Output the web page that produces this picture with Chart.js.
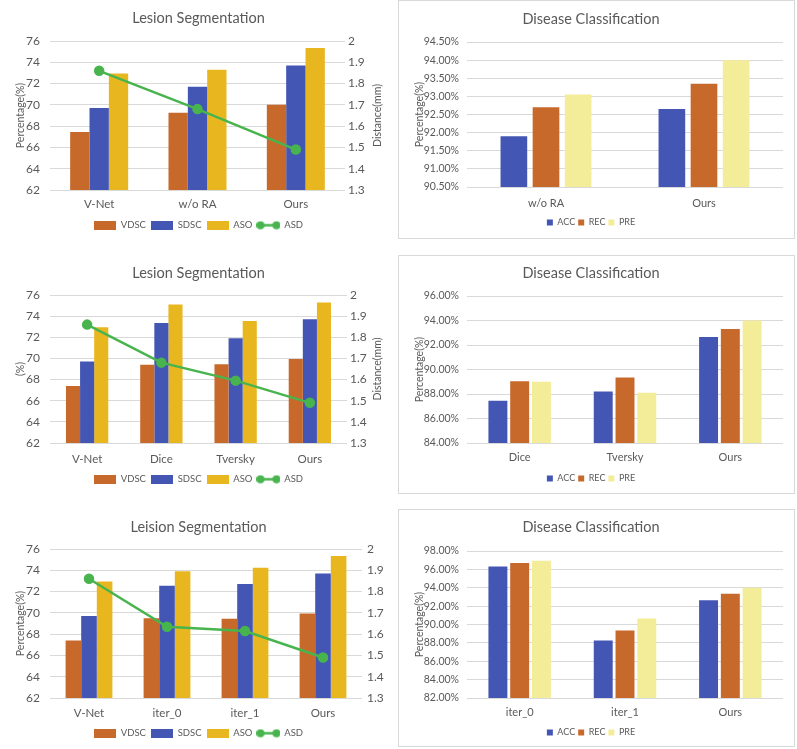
<!DOCTYPE html>
<html>
<head>
<meta charset="utf-8">
<script src="https://cdn.jsdelivr.net/npm/chart.js@4/dist/chart.umd.min.js"></script>
<style>
  body { margin: 0; background: #fff; }
  #page { position: relative; width: 797px; height: 749px; overflow: hidden; }
  .box { position: absolute; border: 1px solid #d9d9d9; box-sizing: border-box; }
  canvas { position: absolute; }
</style>
</head>
<body>
<div id="page">
  <div class="box" style="left:398px;top:0px;width:397px;height:239px"></div>
  <div class="box" style="left:398px;top:255px;width:397px;height:239px"></div>
  <div class="box" style="left:398px;top:509px;width:397px;height:238px"></div>
  <canvas id="seg1"></canvas>
  <canvas id="cls1"></canvas>
  <canvas id="seg2"></canvas>
  <canvas id="cls2"></canvas>
  <canvas id="seg3"></canvas>
  <canvas id="cls3"></canvas>
</div>
<script>
// ---- data ----
// row 1
const seg1Cats = ['V-Net', 'w/o RA', 'Ours']
const seg1VDSC = [67.45, 69.25, 70.0]
const seg1SDSC = [69.7, 71.7, 73.7]
const seg1ASO = [72.95, 73.3, 75.35]
const seg1ASD = [1.86, 1.68, 1.49]

const cls1Cats = ['w/o RA', 'Ours']
const cls1ACC = [91.9, 92.65]
const cls1REC = [92.7, 93.35]
const cls1PRE = [93.05, 94.0]

// row 2
const seg2Cats = ['V-Net', 'Dice', 'Tversky', 'Ours']
const seg2VDSC = [67.4, 69.4, 69.45, 69.95]
const seg2SDSC = [69.7, 73.35, 71.9, 73.7]
const seg2ASO = [72.95, 75.1, 73.55, 75.3]
const seg2ASD = [1.86, 1.68, 1.595, 1.49]

const cls2Cats = ['Dice', 'Tversky', 'Ours']
const cls2ACC = [87.45, 88.2, 92.65]
const cls2REC = [89.05, 89.35, 93.3]
const cls2PRE = [89.0, 88.1, 94.0]

// row 3
const seg3Cats = ['V-Net', 'iter_0', 'iter_1', 'Ours']
const seg3VDSC = [67.4, 69.5, 69.45, 69.95]
const seg3SDSC = [69.7, 72.55, 72.7, 73.7]
const seg3ASO = [72.95, 73.9, 74.25, 75.35]
const seg3ASD = [1.86, 1.635, 1.615, 1.49]

const cls3Cats = ['iter_0', 'iter_1', 'Ours']
const cls3ACC = [96.3, 88.25, 92.65]
const cls3REC = [96.7, 89.35, 93.35]
const cls3PRE = [96.95, 90.65, 94.0]

// axis ranges
const segLeftAxis = { min: 62, max: 76, step: 2 }
const segRightAxis = { min: 1.3, max: 2, step: 0.1 }
const cls1Axis = { min: 90.5, max: 94.5, step: 0.5 }
const cls2Axis = { min: 84, max: 96, step: 2 }
const cls3Axis = { min: 82, max: 98, step: 2 }

// ---- styles ----
const GRAY = '#595959'
const GRID = '#d9d9d9'
const ORANGE = '#C8692C'
const BLUE = '#4456B4'
const GOLD = '#E8B720'
const PALE = '#F3EC98'
const GREEN = '#48B44E'
const FONT = 'Lato, "Open Sans", sans-serif'

function place(id, g, ch) {
  const cv = document.getElementById(id)
  cv.width = g.cw
  cv.height = ch
  cv.style.left = g.cx + 'px'
  cv.style.top = g.cy + 'px'
  return cv
}

function legendIcon(color, isLine) {
  const c = document.createElement('canvas')
  c.width = isLine ? 24 : 22
  c.height = 9
  const x = c.getContext('2d')
  x.fillStyle = color
  if (isLine) {
    x.strokeStyle = color
    x.lineWidth = 2.5
    x.beginPath(); x.moveTo(4, 4.5); x.lineTo(20, 4.5); x.stroke()
    ;[4, 20].forEach(px => { x.beginPath(); x.arc(px, 4.5, 4, 0, Math.PI * 2); x.fill() })
  } else {
    x.fillRect(0, 0, 22, 9)
  }
  return c
}

// right hand axis title, rotated like the original (reads bottom to top)
const rightTitle = {
  id: 'rightTitle',
  afterDraw(chart, args, opts) {
    if (!opts.text) return
    const { ctx, chartArea } = chart
    ctx.save()
    ctx.fillStyle = GRAY
    ctx.font = '10.5px ' + FONT
    ctx.textAlign = 'center'
    ctx.textBaseline = 'middle'
    ctx.translate(opts.x, (chartArea.top + chartArea.bottom) / 2)
    ctx.rotate(-Math.PI / 2)
    ctx.fillText(opts.text, 0, 0)
    ctx.restore()
  }
}

function segChart(id, g, cats, vdsc, sdsc, aso, asd, title, leftTitle, rTitle, catPct) {
  const pad = 5, itemH = 9.5
  const ch = Math.round(g.legendY + itemH / 2 + 10 - g.cy)
  const legendTop = g.cy + ch - (itemH + pad + 10)
  const cv = place(id, g, ch)
  const icons = [legendIcon(ORANGE), legendIcon(BLUE), legendIcon(GOLD), legendIcon(GREEN, true)]
  new Chart(cv, {
    type: 'bar',
    data: {
      labels: cats,
      datasets: [
        { label: 'VDSC', data: vdsc, backgroundColor: ORANGE, yAxisID: 'y', order: 1 },
        { label: 'SDSC', data: sdsc, backgroundColor: BLUE, yAxisID: 'y', order: 1 },
        { label: 'ASO', data: aso, backgroundColor: GOLD, yAxisID: 'y', order: 1 },
        {
          type: 'line', label: 'ASD', data: asd, yAxisID: 'y1', order: 0,
          borderColor: GREEN, backgroundColor: GREEN, borderWidth: 2.5,
          pointRadius: 4, pointBackgroundColor: GREEN, pointBorderColor: GREEN
        }
      ]
    },
    plugins: [rightTitle],
    options: {
      responsive: false,
      animation: false,
      datasets: { bar: { barPercentage: 1, categoryPercentage: catPct } },
      layout: { padding: 0 },
      plugins: {
        title: {
          display: true, text: title, color: GRAY,
          font: { family: FONT, size: 14.5, weight: 'normal', lineHeight: 1.2 },
          padding: { top: g.titleY - g.cy - 8, bottom: g.pt - g.titleY - 9.4 }
        },
        legend: {
          position: 'bottom',
          labels: {
            usePointStyle: true, pointStyleWidth: 22, boxHeight: 9, padding: pad,
            color: GRAY, font: { family: FONT, size: 9.5 },
            sort: (a, b) => a.datasetIndex - b.datasetIndex,
            generateLabels: c => Chart.defaults.plugins.legend.labels.generateLabels(c)
              .map(it => Object.assign(it, { pointStyle: icons[it.datasetIndex] }))
          }
        },
        tooltip: { enabled: false },
        rightTitle: { text: rTitle, x: g.rtX - g.cx }
      },
      scales: {
        x: {
          grid: { display: false, drawTicks: false }, border: { display: false },
          ticks: { color: GRAY, font: { family: FONT, size: 11.5 }, padding: g.catY - g.pb - 5 },
          afterFit: s => { s.height = legendTop - g.pb }
        },
        y: {
          position: 'left', min: segLeftAxis.min, max: segLeftAxis.max,
          ticks: { stepSize: segLeftAxis.step, color: GRAY, font: { family: FONT, size: 12 }, padding: 10 },
          grid: { color: GRID, drawTicks: false }, border: { display: false },
          title: { display: true, text: leftTitle, color: GRAY, font: { family: FONT, size: 10.5 }, padding: { top: 14, bottom: 0 } },
          afterFit: s => { s.width = g.pl - g.cx }
        },
        y1: {
          position: 'right', min: segRightAxis.min, max: segRightAxis.max,
          ticks: { stepSize: segRightAxis.step, color: GRAY, font: { family: FONT, size: 12 }, padding: g.rPad, callback: v => +v.toFixed(1) },
          grid: { display: false, drawTicks: false }, border: { display: false },
          afterFit: s => { s.width = g.cx + g.cw - g.pr }
        }
      }
    }
  })
}

function clsChart(id, g, cats, acc, rec, pre, axis, catPct, barPct) {
  const pad = 3, itemH = 9
  const ch = Math.round(g.legendY + itemH / 2 + 10 - g.cy)
  const legendTop = g.cy + ch - (itemH + pad + 10)
  const cv = place(id, g, ch)
  new Chart(cv, {
    type: 'bar',
    data: {
      labels: cats,
      datasets: [
        { label: 'ACC', data: acc, backgroundColor: BLUE },
        { label: 'REC', data: rec, backgroundColor: ORANGE },
        { label: 'PRE', data: pre, backgroundColor: PALE }
      ]
    },
    options: {
      responsive: false,
      animation: false,
      datasets: { bar: { barPercentage: barPct, categoryPercentage: catPct } },
      layout: { padding: { left: 0, top: 0, bottom: 0, right: g.cx + g.cw - g.pr } },
      plugins: {
        title: {
          display: true, text: 'Disease Classification', color: GRAY,
          font: { family: FONT, size: 14.5, weight: 'normal', lineHeight: 1.2 },
          padding: { top: g.titleY - g.cy - 8, bottom: g.pt - g.titleY - 9.4 }
        },
        legend: {
          position: 'bottom',
          labels: {
            usePointStyle: true, pointStyle: 'rect', pointStyleWidth: 6, boxHeight: 6, padding: pad,
            color: GRAY, font: { family: FONT, size: 9 }
          }
        },
        tooltip: { enabled: false }
      },
      scales: {
        x: {
          grid: { display: false, drawTicks: false }, border: { display: false },
          ticks: { color: GRAY, font: { family: FONT, size: 11 }, padding: g.catY - g.pb - 5 },
          afterFit: s => { s.height = legendTop - g.pb }
        },
        y: {
          min: axis.min, max: axis.max,
          ticks: { stepSize: axis.step, color: GRAY, font: { family: FONT, size: 10.5 }, padding: 8, callback: v => v.toFixed(2) + '%' },
          grid: { color: GRID, drawTicks: false }, border: { display: false },
          title: { display: true, text: 'Percentage(%)', color: GRAY, font: { family: FONT, size: 10.5 }, padding: { top: 14, bottom: 0 } },
          afterFit: s => { s.width = g.pl - g.cx }
        }
      }
    }
  })
}

// panel geometry in page pixels
segChart('seg1', { cx: 0, cy: 0, cw: 397, pl: 50, pr: 345, pt: 41, pb: 190, titleY: 18, catY: 202, legendY: 225, rPad: 3, rtX: 378 },
  seg1Cats, seg1VDSC, seg1SDSC, seg1ASO, seg1ASD, 'Lesion Segmentation', 'Percentage(%)', 'Distance(mm)', 0.59)
clsChart('cls1', { cx: 399, cy: 1, cw: 394, pl: 467, pr: 783, pt: 42, pb: 187, titleY: 19, catY: 202, legendY: 222 },
  cls1Cats, cls1ACC, cls1REC, cls1PRE, cls1Axis, 0.61, 0.83)

segChart('seg2', { cx: 0, cy: 250, cw: 397, pl: 50, pr: 347, pt: 295, pb: 443, titleY: 273, catY: 457, legendY: 479, rPad: 3, rtX: 378 },
  seg2Cats, seg2VDSC, seg2SDSC, seg2ASO, seg2ASD, 'Lesion Segmentation', '(%)', 'Distance(mm)', 0.57)
clsChart('cls2', { cx: 399, cy: 256, cw: 394, pl: 467, pr: 783, pt: 296, pb: 443, titleY: 273, catY: 456, legendY: 478 },
  cls2Cats, cls2ACC, cls2REC, cls2PRE, cls2Axis, 0.62, 0.87)

segChart('seg3', { cx: 0, cy: 500, cw: 397, pl: 50, pr: 362, pt: 549, pb: 698, titleY: 527, catY: 711, legendY: 733, rPad: 5, rtX: 0 },
  seg3Cats, seg3VDSC, seg3SDSC, seg3ASO, seg3ASD, 'Leision Segmentation', 'Percentage(%)', '', 0.6)
clsChart('cls3', { cx: 399, cy: 510, cw: 394, pl: 467, pr: 783, pt: 551, pb: 698, titleY: 527, catY: 711, legendY: 732 },
  cls3Cats, cls3ACC, cls3REC, cls3PRE, cls3Axis, 0.62, 0.87)
</script>
</body>
</html>
